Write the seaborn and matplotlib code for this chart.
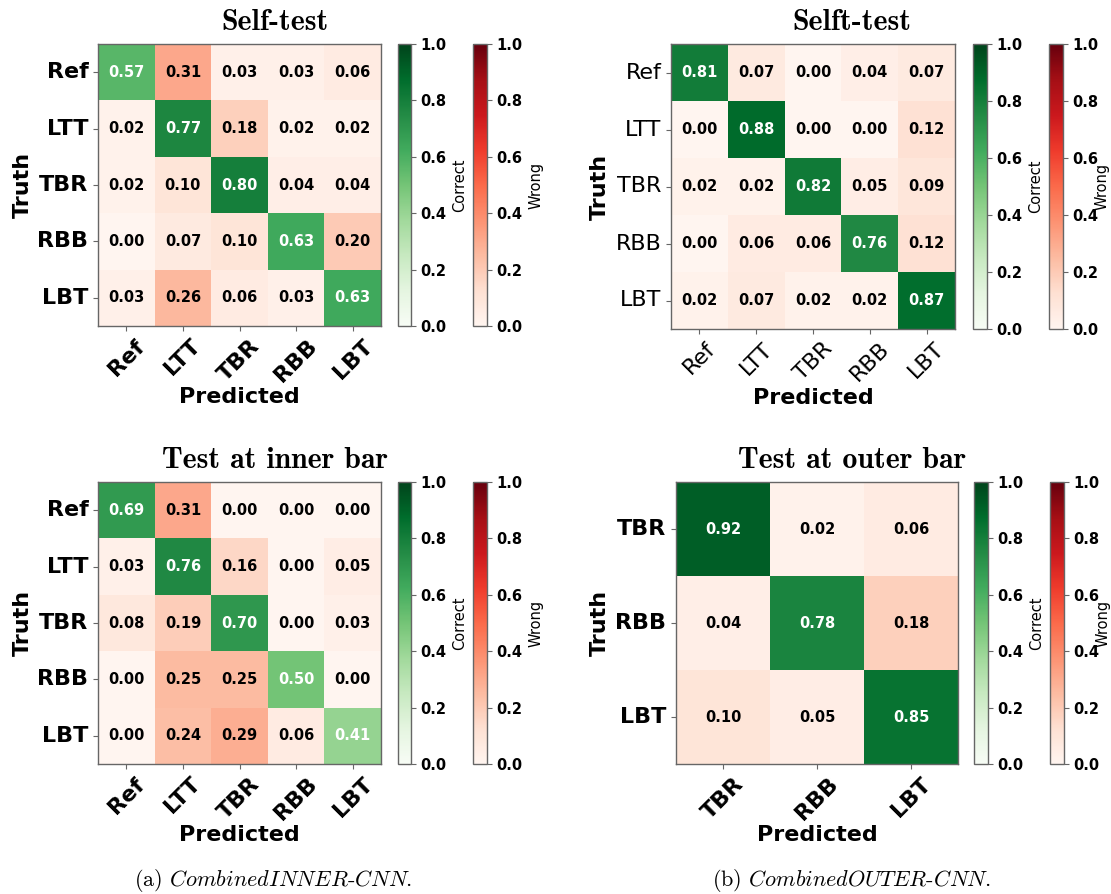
import numpy as np
import pandas as pd
import matplotlib
matplotlib.use("Agg")
import matplotlib.pyplot as plt
import seaborn as sns

plt.rcParams["mathtext.fontset"] = "cm"

W, H = 1111, 894

# Class labels
inner_classes = ["Ref", "LTT", "TBR", "RBB", "LBT"]
outer_classes = ["TBR", "RBB", "LBT"]

# Row-normalised confusion matrices (rows = truth, columns = predicted)
inner_self_test = [
    [0.57, 0.31, 0.03, 0.03, 0.06],
    [0.02, 0.77, 0.18, 0.02, 0.02],
    [0.02, 0.10, 0.80, 0.04, 0.04],
    [0.00, 0.07, 0.10, 0.63, 0.20],
    [0.03, 0.26, 0.06, 0.03, 0.63],
]
outer_self_test = [
    [0.81, 0.07, 0.00, 0.04, 0.07],
    [0.00, 0.88, 0.00, 0.00, 0.12],
    [0.02, 0.02, 0.82, 0.05, 0.09],
    [0.00, 0.06, 0.06, 0.76, 0.12],
    [0.02, 0.07, 0.02, 0.02, 0.87],
]
inner_bar_test = [
    [0.69, 0.31, 0.00, 0.00, 0.00],
    [0.03, 0.76, 0.16, 0.00, 0.05],
    [0.08, 0.19, 0.70, 0.00, 0.03],
    [0.00, 0.25, 0.25, 0.50, 0.00],
    [0.00, 0.24, 0.29, 0.06, 0.41],
]
outer_bar_test = [
    [0.92, 0.02, 0.06],
    [0.04, 0.78, 0.18],
    [0.10, 0.05, 0.85],
]

titles = ["Self-test", "Selft-test", "Test at inner bar", "Test at outer bar"]
captions = [r"(a) $\mathit{CombinedINNER}$-$\mathit{CNN}$.",
            r"(b) $\mathit{CombinedOUTER}$-$\mathit{CNN}$."]

EDGE = "#666666"


def frac(x0, y0, x1, y1):
    return [x0 / W, 1 - y1 / H, (x1 - x0) / W, (y1 - y0) / H]


def style_cbar(cb, label, pad=4.0):
    cb.outline.set_linewidth(1.0)
    cb.outline.set_edgecolor(EDGE)
    cb.set_ticks([0.0, 0.2, 0.4, 0.6, 0.8, 1.0])
    cb.ax.tick_params(labelsize=10.5, length=3.5, color=EDGE, width=0.8)
    for t in cb.ax.get_yticklabels():
        t.set_fontweight("bold")
    cb.set_label(label, fontsize=10.5, labelpad=pad)


def draw_panel(fig, mat, classes, ax_box, cg_box, cr_box, bold_ticks, xlab_y, ylab_x,
               wrong_pad=4.0):
    df = pd.DataFrame(mat, index=classes, columns=classes)
    diag = np.eye(len(classes), dtype=bool)
    ax = fig.add_axes(frac(*ax_box))
    cg = fig.add_axes(frac(*cg_box))
    cr = fig.add_axes(frac(*cr_box))

    # correct predictions (diagonal) in green, confusions in red
    sns.heatmap(df, mask=~diag, cmap="Greens", vmin=0, vmax=1, annot=True, fmt=".2f",
                annot_kws=dict(color="white", fontsize=10.5, fontweight="bold"),
                cbar_ax=cg, ax=ax)
    sns.heatmap(df, mask=diag, cmap="Reds", vmin=0, vmax=1, annot=True, fmt=".2f",
                annot_kws=dict(color="black", fontsize=10.5, fontweight="bold"),
                cbar_ax=cr, ax=ax)

    style_cbar(ax.collections[0].colorbar, "Correct")
    style_cbar(ax.collections[1].colorbar, "Wrong", wrong_pad)

    for sp in ax.spines.values():
        sp.set_visible(True)
        sp.set_color(EDGE)
        sp.set_linewidth(1.0)

    weight = "bold" if bold_ticks else "normal"
    ax.set_xticklabels(classes, rotation=45, fontsize=16, fontweight=weight)
    ax.set_yticklabels(classes, rotation=0, fontsize=16, fontweight=weight)
    ax.tick_params(length=3.5, color=EDGE, width=0.8)

    ax.set_xlabel("Predicted", fontsize=16, fontweight="bold", va="center")
    ax.set_ylabel("Truth", fontsize=16, fontweight="bold", va="center")
    ax.xaxis.set_label_coords(0.5, xlab_y)
    ax.yaxis.set_label_coords(ylab_x, 0.5)
    return ax


fig = plt.figure(figsize=(W / 100, H / 100), dpi=100)

draw_panel(fig, inner_self_test, inner_classes,
           (98, 44, 381, 326), (398, 44, 411, 326), (473, 44, 487, 326),
           True, -0.252, -0.265)
draw_panel(fig, outer_self_test, inner_classes,
           (671, 44, 955, 329), (973, 44, 987, 329), (1049, 44, 1063, 329),
           False, -0.242, -0.25, wrong_pad=-3.0)
draw_panel(fig, inner_bar_test, inner_classes,
           (98, 482, 381, 764), (398, 482, 411, 764), (473, 482, 487, 764),
           True, -0.252, -0.265)
draw_panel(fig, outer_bar_test, outer_classes,
           (676, 482, 958, 764), (974, 482, 988, 764), (1050, 482, 1064, 764),
           True, -0.252, -0.27, wrong_pad=-3.0)

title_pos = [(275, 23), (852, 23), (275, 461), (852, 461)]
for (x, y), t in zip(title_pos, titles):
    fig.text(x / W, 1 - y / H, t, fontfamily="cmb10", fontsize=21.5,
             ha="center", va="center")

for (x, y), c in zip([(273, 880), (852, 880)], captions):
    fig.text(x / W, 1 - y / H, c, fontfamily="cmr10", fontsize=16,
             ha="center", va="center")

fig.savefig("out.png", dpi=100)
